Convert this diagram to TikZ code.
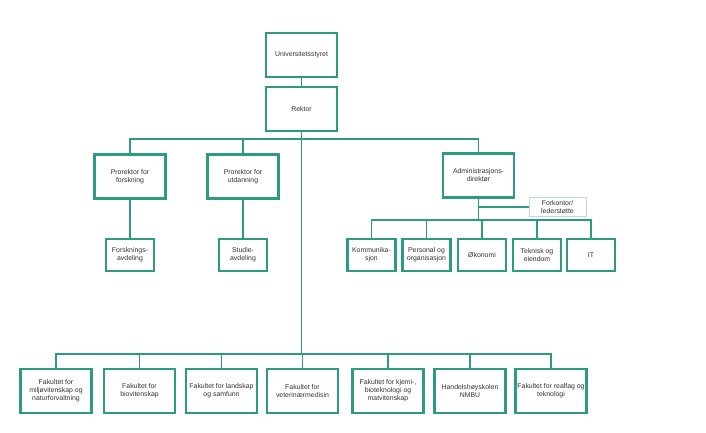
\documentclass[tikz,border=0pt]{standalone}
\usepackage{fontspec}
\setmainfont{Liberation Sans}
\definecolor{nmbu}{RGB}{45,155,130}
\definecolor{nmbulys}{RGB}{185,222,212}
\begin{document}
\begin{tikzpicture}[x=1pt,y=-1pt,
    boks/.style={draw=nmbu,line width=2.4pt,fill=white,align=center,inner sep=0pt,
      font=\fontsize{6.9}{8}\selectfont,text=black!80},
    stor/.style={boks,minimum width=71pt,minimum height=44pt},
    liten/.style={boks,minimum width=48pt,minimum height=32pt},
    linje/.style={draw=nmbu,line width=1.3pt}]
    \useasboundingbox (0,0) rectangle (706,433);

    % ledelse
    \node[stor] (U) at (301.5,55) {Universitetsstyret};
    \node[stor] (R) at (301.5,109) {Rektor};
    \node[stor] (P1) at (130,176.5) {Prorektor for\\forskning};
    \node[stor] (P2) at (243,176.5) {Prorektor for\\utdanning};
    \node[stor] (AD) at (478.5,175.5) {Administrasjons-\\direktør};
    \node[liten] (A1) at (130,255) {Forsknings-\\avdeling};
    \node[liten] (A2) at (243,255) {Studie-\\avdeling};
    \node[boks,draw=nmbulys,line width=1pt,minimum width=57pt,minimum height=19pt] (FK) at (557.5,207) {Forkontor/\\lederstøtte};

    % fellesadministrasjon
    \node[liten] (K1) at (371.5,255) {Kommunika-\\sjon};
    \node[liten] (K2) at (426.5,255) {Personal og\\organisasjon};
    \node[liten] (K3) at (482,255) {Økonomi};
    \node[liten] (K4) at (537,255) {Teknisk og\\eiendom};
    \node[liten] (K5) at (591,255) {IT};

    % fakulteter
    \node[stor] (F1) at (56,391) {Fakultet for\\miljøvitenskap og\\naturforvaltning};
    \node[stor] (F2) at (139.5,391) {Fakultet for\\biovitenskap};
    \node[stor] (F3) at (221.5,391) {Fakultet for landskap\\og samfunn};
    \node[stor] (F4) at (302.5,391) {Fakultet for\\veterinærmedisin};
    \node[stor] (F5) at (388,391) {Fakultet for kjemi-,\\bioteknologi og\\matvitenskap};
    \node[stor] (F6) at (470,391) {Handelshøyskolen\\NMBU};
    \node[stor] (F7) at (551,391) {Fakultet for realfag og\\teknologi};

    \coordinate (b1) at (0,139);
    \coordinate (b2) at (0,220);
    \coordinate (b3) at (0,354);

    \draw[linje] (U) -- (R);
    \draw[linje] (P1.north) -- (P1.north |- b1) -- (AD.north |- b1) -- (AD.north);
    \draw[linje] (P2.north) -- (P2.north |- b1);
    \draw[linje] (P1) -- (A1);
    \draw[linje] (P2) -- (A2);
    \draw[linje] (R.south) -- (R.south |- b3);

    \draw[linje] (AD.south) -- (AD.south |- b2);
    \draw[linje] (AD.south |- FK.west) -- (FK.west);
    \draw[linje] (K1.north) -- (K1.north |- b2) -- (K5.north |- b2) -- (K5.north);
    \draw[linje] (K2.north) -- (K2.north |- b2);
    \draw[linje] (K3.north) -- (K3.north |- b2);
    \draw[linje] (K4.north) -- (K4.north |- b2);

    \draw[linje] (F1.north) -- (F1.north |- b3) -- (F7.north |- b3) -- (F7.north);
    \draw[linje] (F2.north) -- (F2.north |- b3);
    \draw[linje] (F3.north) -- (F3.north |- b3);
    \draw[linje] (F4.north) -- (F4.north |- b3);
    \draw[linje] (F5.north) -- (F5.north |- b3);
    \draw[linje] (F6.north) -- (F6.north |- b3);

\end{tikzpicture}
\end{document}
